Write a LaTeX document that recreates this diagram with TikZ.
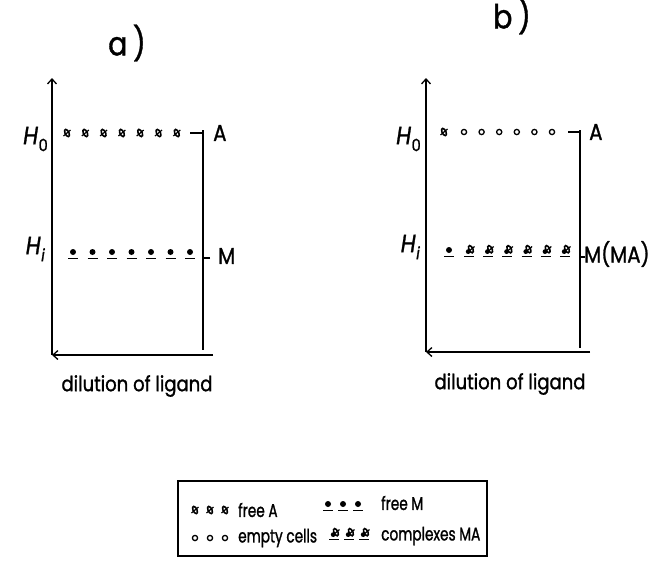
\documentclass[tikz,border=0pt]{standalone}
\usepackage{fontspec}
\setmainfont{Poppins}[FakeBold=1.2,FakeStretch=0.86]
\newfontfamily\legfont{Poppins}[FakeBold=1.2,FakeStretch=0.74]
\usetikzlibrary{arrows.meta}
\begin{document}
\begin{tikzpicture}[x=1pt,y=-1pt,
  axis/.style={line width=1.5pt,-{Straight Barb[length=5pt,width=9pt,line width=1.3pt]}},
  frame/.style={line width=1.6pt},
  txt/.style={inner sep=0pt,font=\fontsize{21}{23}\selectfont},
  lab/.style={inner sep=0pt,anchor=west,font=\fontsize{23}{25}\selectfont},
  hlab/.style={inner sep=0pt,anchor=east,font=\fontsize{25}{27}\selectfont},
  ttl/.style={inner sep=0pt,font=\fontsize{33}{35}\selectfont},
  legtxt/.style={inner sep=0pt,anchor=west,font=\legfont\fontsize{18.5}{20}\selectfont},
  symA/.pic={\draw[line width=1.6pt,xslant=-0.35] (0,0) ellipse (2.1pt and 3.6pt);
             \draw[line width=1.2pt] (-3.5,3) -- (3.5,-3);},
  symO/.pic={\draw[line width=1.3pt] (0,0) circle (2.6pt);},
  symM/.pic={\fill (0,0) circle (3pt); \draw[line width=1.5pt] (-5,6.5) -- (5,6.5);},
  symMA/.pic={\draw[line width=1.6pt,xslant=-0.35] (1.2,-0.8) ellipse (2.1pt and 3.6pt);
              \draw[line width=1.2pt] (-2.2,2.2) -- (4.5,-3.5);
              \fill (-1.8,1.6) circle (2.4pt);
              \draw[line width=1.5pt] (-6,6.5) -- (4,6.5);}
]
\useasboundingbox (0,0) rectangle (656,563);

% titles
\node[ttl] (ta) at (127,43) {a\,)};
\node[ttl] (tb) at (512,16) {b\,)};

% ---------- panel a ----------
\coordinate (a0) at (52,355);
\coordinate (atop) at (52,78);
\coordinate (aright) at (213,355);
\coordinate (afr1) at (203,130);
\coordinate (afr2) at (203,350);
\draw[axis] (a0) -- (atop);
\draw[axis] (aright) -- (a0);
\draw[frame] (afr1) -- (afr2);
\coordinate (aAt) at (190,133);
\draw[frame] (aAt) -- (afr1 |- aAt);
\coordinate (aMt) at (210,258);
\draw[frame] (aMt) -- (afr1 |- aMt);
\node[lab] (aA) at (213,133) {A};
\node[lab] (aM) at (218,256) {M};
\node[hlab] (aH0) at (48,139) {\itshape H\kern0.5pt\raisebox{-7pt}{\fontsize{17}{17}\selectfont\upshape 0}};
\node[hlab] (aHi) at (45,249) {\itshape H\kern0.5pt\raisebox{-7pt}{\fontsize{17}{17}\selectfont i}};
\foreach \i in {0,...,6} {\pic at ({67+18.3*\i},133) {symA};}
\foreach \i in {0,...,6} {\pic at ({73+19.5*\i},252) {symM};}
\node[txt] (adil) at (137,386) {dilution of ligand};

% ---------- panel b ----------
\coordinate (b0) at (426,352);
\coordinate (btop) at (426,78);
\coordinate (bright) at (590,352);
\coordinate (bfr1) at (580,130);
\coordinate (bfr2) at (580,348);
\draw[axis] (b0) -- (btop);
\draw[axis] (bright) -- (b0);
\draw[frame] (bfr1) -- (bfr2);
\coordinate (bAt) at (568,132);
\draw[frame] (bAt) -- (bfr1 |- bAt);
\coordinate (bMt) at (585,257);
\draw[frame] (bMt) -- (bfr1 |- bMt);
\node[lab] (bA) at (589,132) {A};
\node[lab] (bM) at (584,254) {M(MA)};
\node[hlab] (bH0) at (421,139) {\itshape H\kern0.5pt\raisebox{-7pt}{\fontsize{17}{17}\selectfont\upshape 0}};
\node[hlab] (bHi) at (420,247) {\itshape H\kern0.5pt\raisebox{-7pt}{\fontsize{17}{17}\selectfont i}};
\pic at (444,132) {symA};
\foreach \i in {0,...,5} {\pic at ({464+17.6*\i},132) {symO};}
\pic at (449,250) {symM};
\foreach \i in {0,...,5} {\pic at ({470+19.2*\i},250) {symMA};}
\node[txt] (bdil) at (510,384) {dilution of ligand};

% ---------- legend ----------
\node[draw,line width=1.4pt,minimum width=309pt,minimum height=75pt,inner sep=0pt] (leg) at (332.5,518.5) {};
\foreach \i in {0,1,2} {\pic at ({195+15*\i},510) {symA};}
\foreach \i in {0,1,2} {\pic at ({195+15*\i},538) {symO};}
\foreach \i in {0,1,2} {\pic at ({328+15*\i},504) {symM};}
\foreach \i in {0,1,2} {\pic at ({335+15*\i},533) {symMA};}
\node[legtxt] (lA) at (238,510) {free A};
\node[legtxt] (lO) at (238,538) {empty cells};
\node[legtxt] (lM) at (381,503) {free M};
\node[legtxt] (lMA) at (381,536) {complexes MA};
\end{tikzpicture}
\end{document}
